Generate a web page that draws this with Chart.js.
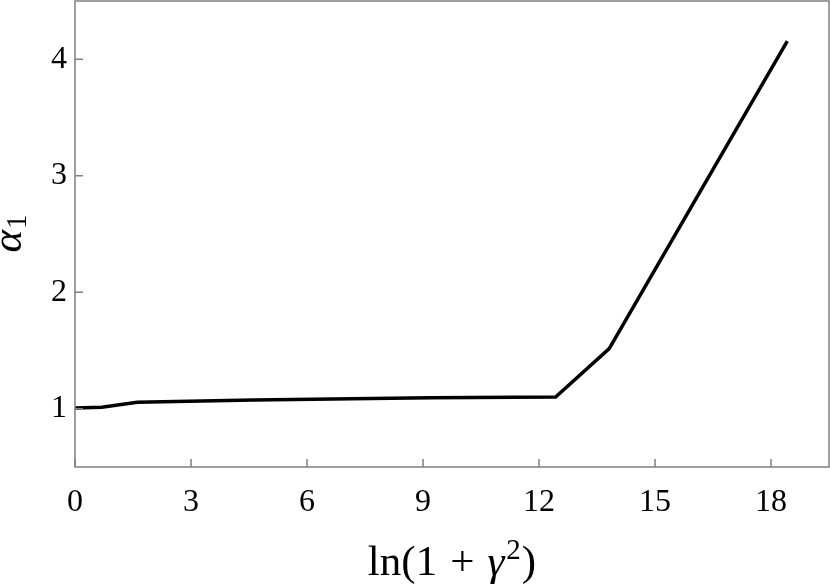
<!DOCTYPE html>
<html>
<head>
<meta charset="utf-8">
<script src="https://cdn.jsdelivr.net/npm/chart.js@4.4.0/dist/chart.umd.min.js"></script>
<style>
  html, body { margin: 0; padding: 0; background: #ffffff; }
  #wrap { width: 830px; height: 585px; }
</style>
</head>
<body>
<div id="wrap"><canvas id="c" width="830" height="585"></canvas></div>
<script>
// ---- data ----
const xValues = [0, 0.693, 1.609, 4.615, 9.210, 12.43, 13.816, 18.421];
const yValues = [1.006, 1.013, 1.055, 1.075, 1.094, 1.101, 1.517, 4.155];
const xTicks = [0, 3, 6, 9, 12, 15, 18];
const yTicks = [1, 2, 3, 4];
const xTitleParts = ["ln(1", "+", "\u03B3", "2", ")"];
const yTitleParts = ["\u03B1", "1"];

const SERIF = "'Liberation Serif', 'DejaVu Serif', serif";
const FRAME = "#808080";

const points = xValues.map((x, i) => ({ x: x, y: yValues[i] }));

const framePlugin = {
  id: 'frame',
  afterDraw(chart) {
    const ctx = chart.ctx;
    const a = chart.chartArea;
    const xs = chart.scales.x, ys = chart.scales.y;
    ctx.save();
    ctx.strokeStyle = FRAME;
    ctx.lineWidth = 1.5;
    ctx.strokeRect(a.left, a.top, a.right - a.left, a.bottom - a.top);
    // inward ticks
    ctx.beginPath();
    xTicks.forEach(v => {
      const px = xs.getPixelForValue(v);
      ctx.moveTo(px, a.bottom);
      ctx.lineTo(px, a.bottom - 8);
    });
    yTicks.forEach(v => {
      const py = ys.getPixelForValue(v);
      ctx.moveTo(a.left, py);
      ctx.lineTo(a.left + 8, py);
    });
    ctx.stroke();

    // x title
    ctx.fillStyle = '#000';
    ctx.textBaseline = 'alphabetic';
    ctx.textAlign = 'left';
    const big = "43px " + SERIF;
    const bigIt = "italic 43px " + SERIF;
    const small = "29px " + SERIF;
    const gap = 13;
    ctx.font = big; const w1 = ctx.measureText(xTitleParts[0]).width;
    const w2 = ctx.measureText(xTitleParts[1]).width;
    ctx.font = bigIt; const w3 = ctx.measureText(xTitleParts[2]).width;
    ctx.font = small; const w4 = ctx.measureText(xTitleParts[3]).width;
    ctx.font = big; const w5 = ctx.measureText(xTitleParts[4]).width;
    const total = w1 + gap + w2 + gap + w3 + 2 + w4 + 1 + w5;
    let x0 = (a.left + a.right) / 2 - total / 2;
    const base = 575;
    ctx.font = big; ctx.fillText(xTitleParts[0], x0, base); x0 += w1 + gap;
    ctx.fillText(xTitleParts[1], x0, base); x0 += w2 + gap;
    ctx.font = bigIt; ctx.fillText(xTitleParts[2], x0, base); x0 += w3 + 2;
    ctx.font = small; ctx.fillText(xTitleParts[3], x0, base - 16); x0 += w4 + 1;
    ctx.font = big; ctx.fillText(xTitleParts[4], x0, base);

    // y title (rotated)
    ctx.save();
    const cy = (a.top + a.bottom) / 2;
    ctx.translate(21, cy);
    ctx.rotate(-Math.PI / 2);
    ctx.font = bigIt; const wa = ctx.measureText(yTitleParts[0]).width;
    ctx.font = small; const wb = ctx.measureText(yTitleParts[1]).width;
    let t0 = -(wa + wb) / 2;
    ctx.font = bigIt; ctx.fillText(yTitleParts[0], t0, 0); t0 += wa + 1;
    ctx.font = small; ctx.fillText(yTitleParts[1], t0, 5);
    ctx.restore();
    ctx.restore();
  }
};

new Chart(document.getElementById('c'), {
  type: 'line',
  data: {
    datasets: [{
      data: points,
      borderColor: '#000000',
      borderWidth: 3.5,
      pointRadius: 0,
      tension: 0,
      fill: false
    }]
  },
  options: {
    responsive: false,
    animation: false,
    devicePixelRatio: 1,
    layout: { padding: { top: 1, right: 1, left: 0, bottom: 0 } },
    plugins: { legend: { display: false }, tooltip: { enabled: false } },
    scales: {
      x: {
        type: 'linear',
        min: 0, max: 19.5,
        afterFit(s) { s.height = 118; s.paddingLeft = 0; s.paddingRight = 0; },
        afterBuildTicks(s) { s.ticks = xTicks.map(v => ({ value: v })); },
        grid: { display: false, drawTicks: false },
        border: { display: false },
        ticks: { color: '#000', padding: 16, font: { family: SERIF, size: 32 } }
      },
      y: {
        type: 'linear',
        min: 0.5, max: 4.5,
        afterFit(s) { s.width = 75; s.paddingTop = 0; s.paddingBottom = 0; },
        afterBuildTicks(s) { s.ticks = yTicks.map(v => ({ value: v })); },
        grid: { display: false, drawTicks: false },
        border: { display: false },
        ticks: { color: '#000', padding: 8, font: { family: SERIF, size: 32 } }
      }
    }
  },
  plugins: [framePlugin]
});
</script>
</body>
</html>
